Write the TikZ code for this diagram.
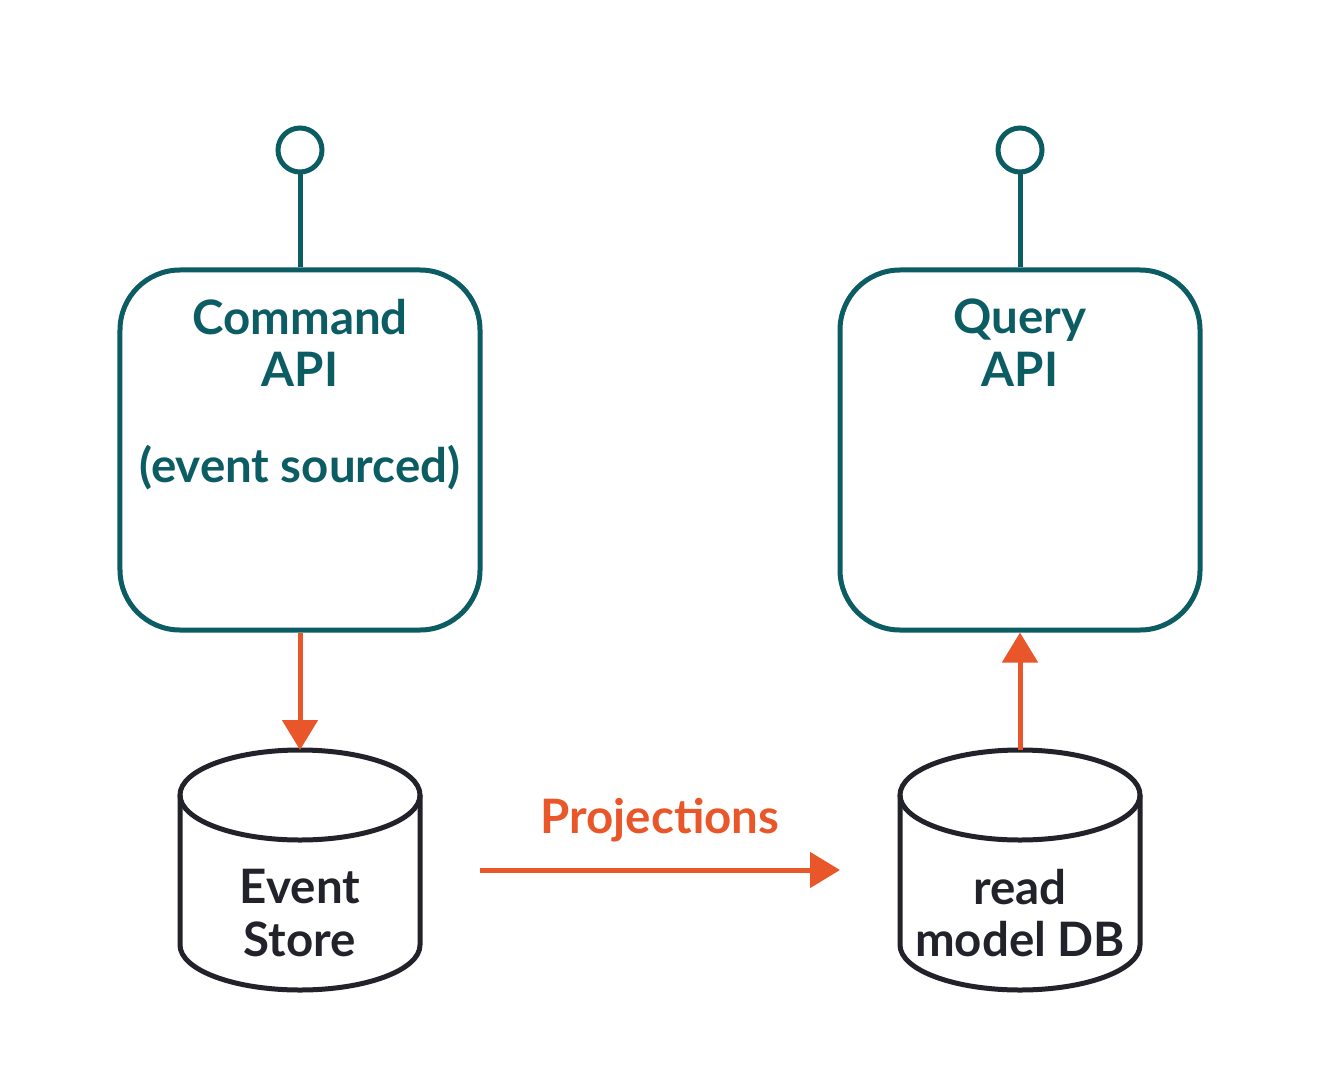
\documentclass[tikz,border=0pt]{standalone}
\usepackage{fontspec}
\setmainfont{Lato}
\usetikzlibrary{arrows.meta,positioning}
\definecolor{teal}{HTML}{0B5C63}
\definecolor{accent}{HTML}{E8562A}
\definecolor{ink}{HTML}{22222A}
\tikzset{
  api/.style={draw=teal, line width=1mm, rounded corners=12mm, minimum width=72mm, minimum height=72mm},
  port/.style={draw=teal, line width=1mm, circle, minimum size=8.8mm, inner sep=0pt},
  label/.style={font=\fontsize{27}{30}\selectfont\bfseries, align=center},
  flow/.style={accent, line width=1mm, -{Triangle[length=6mm,width=7mm]}},
  db/.style={draw=ink, line width=1mm}
}
\begin{document}
\begin{tikzpicture}[x=0.2mm,y=-0.2mm]
  \useasboundingbox (0,0) rectangle (1320,1080);

  % Boxes
  \node[api] (cmd) at (300,450) {};
  \node[api] (qry) at (1020,450) {};
  \node[label, text=teal] at (300,343) {Command\\API};
  \node[label, text=teal] at (300,468) {(event sourced)};
  \node[label, text=teal] at (1020,343) {Query\\API};

  % Ports
  \node[port] (cmdport) at (300,150) {};
  \node[port] (qryport) at (1020,150) {};
  \draw[teal, line width=1mm] (cmdport) -- (cmd);
  \draw[teal, line width=1mm] (qryport) -- (qry);

  % Databases
  \foreach \x in {300, 1020} {
    \draw[db] (\x-120,795) -- (\x-120,945) arc[start angle=180, end angle=0, x radius=120, y radius=45] -- (\x+120,795);
    \draw[db] (\x,795) ellipse[x radius=120, y radius=45];
  }
  \coordinate (estop) at (300,750);
  \coordinate (rmtop) at (1020,750);
  \node[label, text=ink] (es) at (300,913) {Event\\Store};
  \node[label, text=ink] (rm) at (1020,913) {read\\model DB};

  % Flows
  \draw[flow] (cmd.south) -- (estop);
  \draw[flow] (rmtop) -- (qry.south);
  \coordinate (pstart) at (480,870);
  \coordinate (pend) at (840,870);
  \draw[flow] (pstart) -- (pend) node[midway, above=4mm, label, text=accent] {Projections};

\end{tikzpicture}
\end{document}
